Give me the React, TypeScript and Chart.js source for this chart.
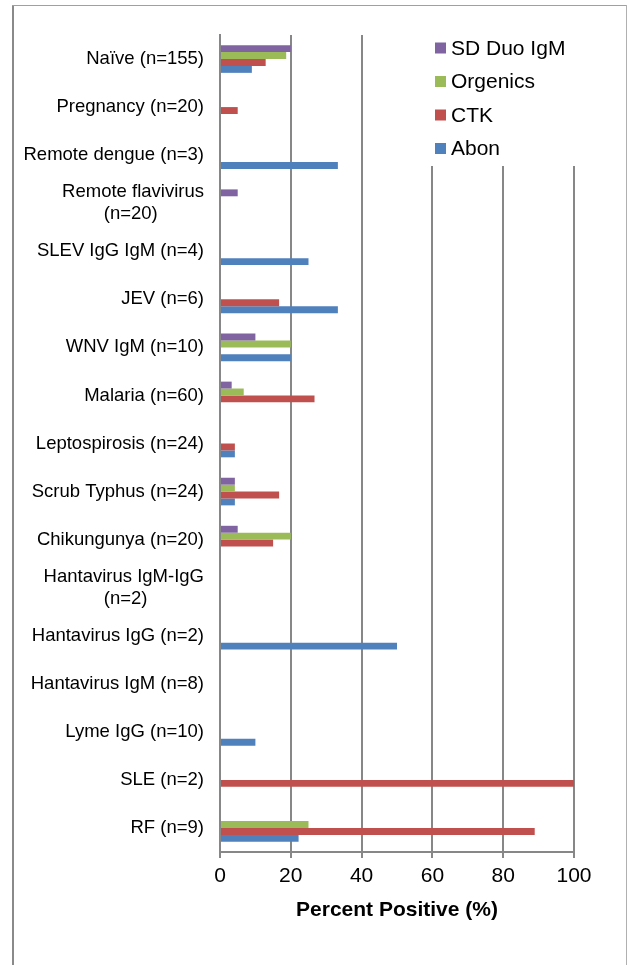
import React, { useEffect, useRef } from 'react';
import { Chart, registerables } from 'chart.js';

Chart.register(...registerables);

const FONT = '"Liberation Sans", Arial, Helvetica, sans-serif';

const categories: (string | string[])[] = [
  'Naïve (n=155)',
  'Pregnancy (n=20)',
  'Remote dengue (n=3)',
  ['Remote flavivirus', '(n=20)         '],
  'SLEV IgG IgM (n=4)',
  'JEV (n=6)',
  'WNV IgM (n=10)',
  'Malaria (n=60)',
  'Leptospirosis (n=24)',
  'Scrub Typhus (n=24)',
  'Chikungunya (n=20)',
  ['Hantavirus IgM-IgG', '(n=2)           '],
  'Hantavirus IgG (n=2)',
  'Hantavirus IgM (n=8)',
  'Lyme IgG (n=10)',
  'SLE (n=2)',
  'RF (n=9)',
];

const seriesNames = ['SD Duo IgM', 'Orgenics', 'CTK', 'Abon'];
const seriesColors = ['#8064A2', '#9BBB59', '#C0504D', '#4F81BD'];

const sdDuoIgM = [20, 0, 0, 5, 0, 0, 10, 3.3, 0, 4.2, 5, 0, 0, 0, 0, 0, 0];
const orgenics = [18.7, 0, 0, 0, 0, 0, 20, 6.7, 0, 4.2, 20, 0, 0, 0, 0, 0, 25];
const ctk = [12.9, 5, 0, 0, 0, 16.7, 0, 26.7, 4.2, 16.7, 15, 0, 0, 0, 0, 100, 88.9];
const abon = [9, 0, 33.3, 0, 25, 33.3, 20, 0, 4.2, 4.2, 0, 0, 50, 0, 10, 0, 22.2];

const seriesValues = [sdDuoIgM, orgenics, ctk, abon];

const xMin = 0;
const xMax = 100;
const xStep = 20;
const xTitle = 'Percent Positive (%)';

const framePlugin = {
  id: 'frame',
  beforeDraw(chart: any) {
    const ctx = chart.ctx;
    ctx.save();
    ctx.fillStyle = '#ffffff';
    ctx.fillRect(0, 0, chart.width, chart.height);
    ctx.fillStyle = '#8a8a8a';
    ctx.fillRect(12, 5, 2, chart.height - 5);
    ctx.fillStyle = '#a0a0a0';
    ctx.fillRect(12, 5, 615, 1);
    ctx.fillStyle = '#b0b0b0';
    ctx.fillRect(626, 5, 1, chart.height - 5);
    ctx.restore();
  },
};

const boxLegendPlugin = {
  id: 'boxLegend',
  afterDraw(chart: any) {
    const ctx = chart.ctx;
    ctx.save();
    ctx.fillStyle = '#ffffff';
    ctx.fillRect(424, 30, 170, 136);
    ctx.font = `21px ${FONT}`;
    ctx.textBaseline = 'middle';
    ctx.textAlign = 'left';
    chart.data.datasets.forEach((ds: any, i: number) => {
      const y = 48 + i * 33.5;
      ctx.fillStyle = ds.backgroundColor;
      ctx.fillRect(435, y - 5.5, 11, 11);
      ctx.fillStyle = '#000000';
      ctx.fillText(ds.label, 451, y + 1);
    });
    ctx.restore();
  },
};

export default function App() {
  const canvasRef = useRef<HTMLCanvasElement | null>(null);

  useEffect(() => {
    if (!canvasRef.current) return;
    const chart = new Chart(canvasRef.current, {
      type: 'bar',
      data: {
        labels: categories,
        datasets: seriesNames.map((name, i) => ({
          label: name,
          data: seriesValues[i],
          backgroundColor: seriesColors[i],
          borderWidth: 0,
          categoryPercentage: 0.575,
          barPercentage: 1,
        })),
      },
      options: {
        indexAxis: 'y',
        animation: false,
        responsive: false,
        devicePixelRatio: 1,
        layout: { padding: { top: 35, right: 55, bottom: 0, left: 0 } },
        plugins: {
          legend: { display: false },
          tooltip: { enabled: false },
        },
        scales: {
          x: {
            type: 'linear',
            position: 'bottom',
            min: xMin,
            max: xMax,
            afterFit: (scale: any) => {
              scale.height = 113;
            },
            ticks: {
              stepSize: xStep,
              color: '#000000',
              font: { family: FONT, size: 21 },
              padding: 6,
            },
            grid: {
              color: '#878787',
              lineWidth: 2,
              drawTicks: true,
              tickLength: 6,
            },
            border: { display: true, color: '#878787', width: 2 },
            title: {
              display: true,
              text: xTitle,
              color: '#000000',
              font: { family: FONT, size: 21, weight: 'bold' },
              padding: { top: 0, bottom: 42 },
            },
          },
          y: {
            type: 'category',
            position: 'left',
            afterFit: (scale: any) => {
              scale.width = 220;
            },
            ticks: {
              color: '#000000',
              font: { family: FONT, size: 18.5 },
              padding: 16,
              autoSkip: false,
            },
            grid: { display: false, drawTicks: false },
            border: { display: true, color: '#878787', width: 2 },
          },
        },
      } as any,
      plugins: [framePlugin, boxLegendPlugin],
    });
    return () => chart.destroy();
  }, []);

  return (
    <div style={{ position: 'absolute', left: 0, top: 0, width: 629, height: 965 }}>
      <canvas ref={canvasRef} width={629} height={965} style={{ display: 'block' }} />
    </div>
  );
}
